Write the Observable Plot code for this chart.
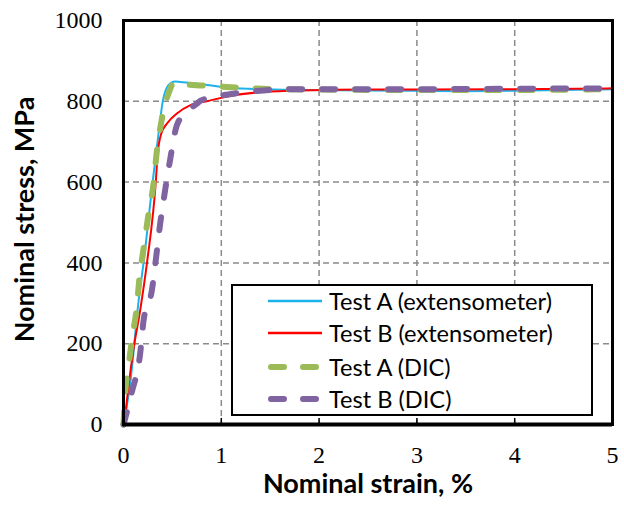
<!DOCTYPE html>
<html><head><meta charset="utf-8">
<script src="https://cdn.jsdelivr.net/npm/d3@7"></script>
<script src="https://cdn.jsdelivr.net/npm/@observablehq/plot@0.6"></script>
<style>
html,body{margin:0;padding:0;background:#fff;}
#wrap{position:relative;width:624px;height:506px;overflow:hidden;}
#legend{position:absolute;left:231px;top:284px;width:358px;height:128px;border:2px solid #000;background:#fff;font-family:Lato, sans-serif;font-size:23.6px;color:#000;}
.row{position:absolute;left:0;width:358px;height:32px;}
.row svg{position:absolute;left:35px;top:0;}
.row span{position:absolute;left:96px;top:0;line-height:32px;white-space:nowrap;}
</style></head><body><div id="wrap"></div>
<script>
// ---- data ----
const xTicks = [0, 1, 2, 3, 4, 5];
const yTicks = [0, 200, 400, 600, 800, 1000];
const xGrid = [1, 2, 3, 4];
const yGrid = [200, 400, 600, 800];

const seriesNames = ["Test A (extensometer)", "Test B (extensometer)", "Test A (DIC)", "Test B (DIC)"];
const seriesColors = ["#1cb2ec", "#ff0000", "#9bbb59", "#8064a2"];

const strainAExt = [0, 0.068, 0.155, 0.205, 0.30, 0.366, 0.40, 0.445, 0.49, 0.53, 0.58, 0.665, 0.84, 1.1, 1.43, 1.8, 2.5, 3.0, 3.5, 4.0, 4.5, 5.0];
const stressAExt = [0, 101, 307, 400, 604, 736, 798, 835, 846, 849, 848, 846, 841, 833, 830, 828, 827, 826, 825, 826, 828, 830];

const strainBExt = [0.01, 0.024, 0.10, 0.17, 0.24, 0.33, 0.35, 0.386, 0.445, 0.546, 0.68, 0.85, 1.1, 1.43, 1.8, 2.5, 3.0, 4.0, 5.0];
const stressBExt = [0, 35, 183, 282, 400, 600, 671, 720, 745, 770, 790, 800, 814, 823, 827, 829, 829, 830, 832];

const strainADIC = [0, 0.017, 0.05, 0.09, 0.14, 0.16, 0.205, 0.256, 0.307, 0.34, 0.386, 0.46, 0.52, 0.6, 0.8, 1.1, 1.43, 2.0, 3.0, 4.0, 5.0];
const stressADIC = [0, 76, 142, 216, 300, 356, 435, 521, 596, 674, 748, 819, 847, 843, 839, 835, 831, 829, 828, 828, 830];

const strainBDIC = [0, 0.017, 0.085, 0.17, 0.205, 0.29, 0.34, 0.375, 0.425, 0.475, 0.545, 0.65, 0.75, 0.79, 1.1, 1.43, 1.78, 2.5, 3.0, 4.0, 5.0];
const stressBDIC = [0, 15, 80, 175, 257, 332, 427, 497, 579, 653, 740, 775, 794, 802, 818, 827, 830, 830, 830, 831, 832];

// ---- tables ----
const toRows = (xs, ys) => xs.map((x, i) => ({strain: x, stress: ys[i]}));
const aExt = toRows(strainAExt, stressAExt);
const bExt = toRows(strainBExt, stressBExt);
const aDIC = toRows(strainADIC, stressADIC);
const bDIC = toRows(strainBDIC, stressBDIC);

const gridStyle = {stroke: "#8a8a8a", strokeOpacity: 1, strokeWidth: 1.5, strokeDasharray: "6,4"};
const dicStyle = {strokeWidth: 6, strokeLinecap: "round", strokeDasharray: "13,20", curve: "monotone-x"};

const chart = Plot.plot({
  width: 624, height: 506,
  marginLeft: 123, marginRight: 12, marginTop: 20, marginBottom: 82,
  x: {domain: [0, 5]},
  y: {domain: [0, 1000]},
  style: {fontFamily: "'Liberation Serif', serif", fontSize: "24px", color: "#000", background: "#fff", overflow: "visible"},
  marks: [
    Plot.gridX(xGrid, gridStyle),
    Plot.gridY(yGrid, gridStyle),
    Plot.ruleX(xGrid, {y1: 0, y2: 15, stroke: "#000", strokeWidth: 1.5}),
    Plot.line(aExt, {x: "strain", y: "stress", stroke: seriesColors[0], strokeWidth: 2, curve: "monotone-x"}),
    Plot.line(bExt, {x: "strain", y: "stress", stroke: seriesColors[1], strokeWidth: 2, curve: "monotone-x"}),
    Plot.line(aDIC, {x: "strain", y: "stress", stroke: seriesColors[2], ...dicStyle}),
    Plot.line(bDIC, {x: "strain", y: "stress", stroke: seriesColors[3], ...dicStyle}),
    Plot.frame({stroke: "#000", strokeWidth: 3}),
    Plot.ruleY([0], {stroke: "#000", strokeWidth: 4}),
    Plot.axisX({ticks: xTicks, tickSize: 0, tickPadding: 21, label: null, fontSize: 24, tickFormat: d => String(d)}),
    Plot.axisY({ticks: yTicks, tickSize: 0, tickPadding: 21, label: null, fontSize: 24, tickFormat: d => String(d)}),
    Plot.text(["Nominal strain, %"], {frameAnchor: "bottom", dy: 68, text: d => d, fontFamily: "Lato, sans-serif", fontWeight: "bold", fontSize: 27, fill: "#000"}),
    Plot.text(["Nominal stress, MPa"], {frameAnchor: "left", textAnchor: "middle", dx: -98, dy: -3, rotate: -90, text: d => d, fontFamily: "Lato, sans-serif", fontWeight: "bold", fontSize: 27, fill: "#000"})
  ]
});

const wrap = document.getElementById("wrap");
wrap.appendChild(chart);

// ---- legend ----
const legend = document.createElement("div");
legend.id = "legend";
const rowCenters = [15, 47, 81, 113];
seriesNames.forEach((name, i) => {
  const row = document.createElement("div");
  row.className = "row";
  row.style.top = (rowCenters[i] - 16) + "px";
  const dic = i >= 2;
  const svgNS = "http://www.w3.org/2000/svg";
  const svg = document.createElementNS(svgNS, "svg");
  svg.setAttribute("width", 56); svg.setAttribute("height", 32);
  const ln = document.createElementNS(svgNS, "line");
  ln.setAttribute("x1", dic ? 3 : 0); ln.setAttribute("x2", dic ? 52 : 54);
  ln.setAttribute("y1", 16); ln.setAttribute("y2", 16);
  ln.setAttribute("stroke", seriesColors[i]);
  ln.setAttribute("stroke-width", dic ? 6 : 2.5);
  if (dic) { ln.setAttribute("stroke-linecap", "round"); ln.setAttribute("stroke-dasharray", "13,19"); }
  svg.appendChild(ln);
  const sp = document.createElement("span");
  sp.textContent = name;
  row.appendChild(svg); row.appendChild(sp);
  legend.appendChild(row);
});
wrap.appendChild(legend);
</script>
</body></html>
